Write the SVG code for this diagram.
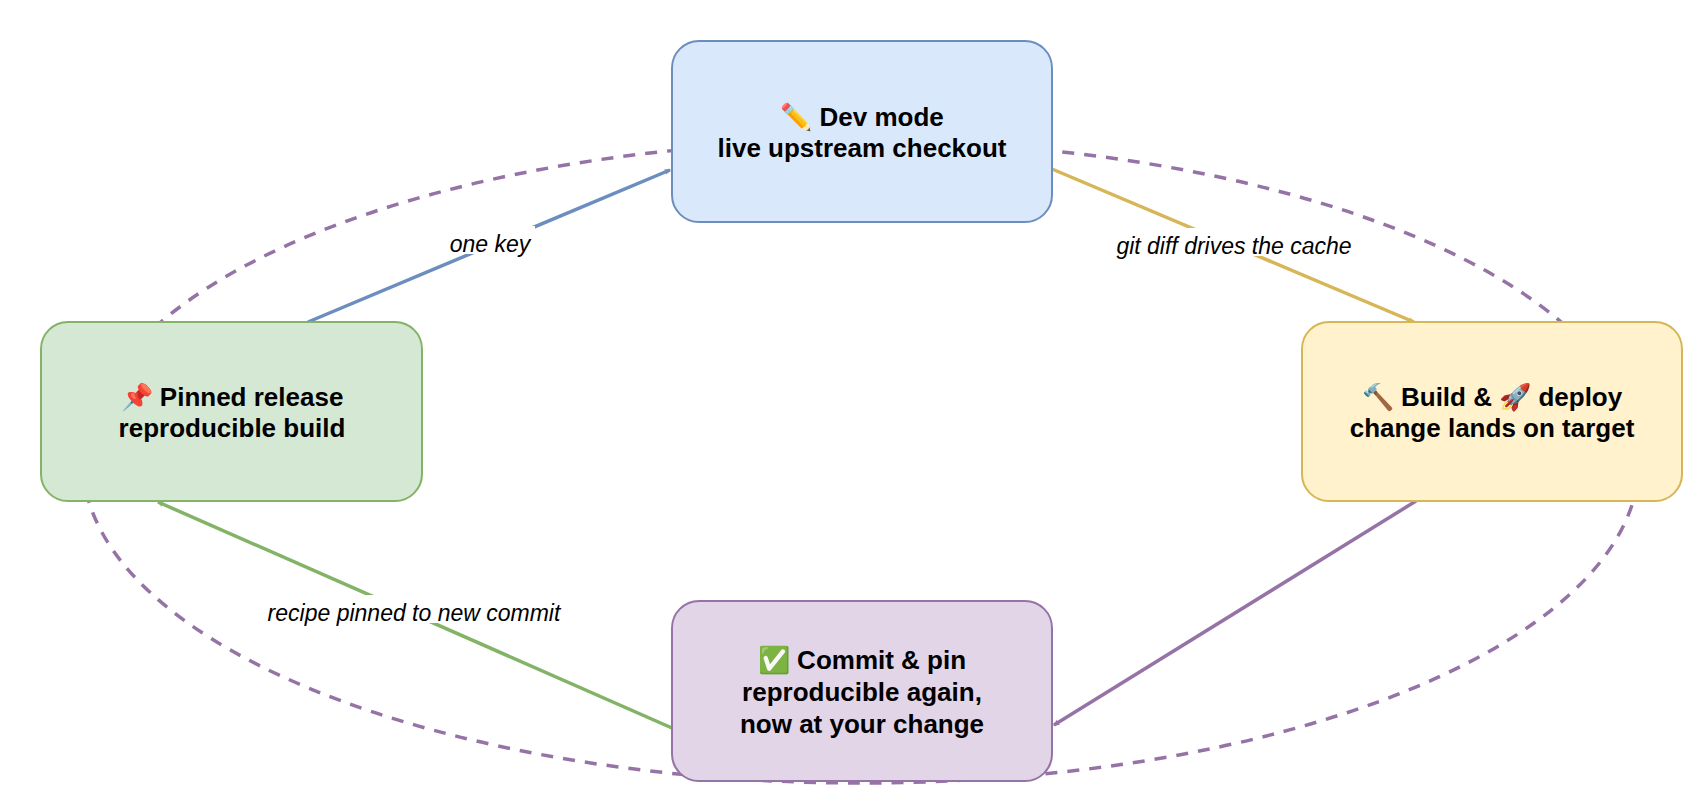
<svg xmlns="http://www.w3.org/2000/svg" width="1705" height="806" viewBox="0 0 1705 806">
<style>
.t{font-family:"Liberation Sans",Arial,sans-serif;font-weight:bold;font-size:26px;text-anchor:middle;fill:#000}
.l{font-family:"Liberation Sans",Arial,sans-serif;font-style:italic;font-size:23px;text-anchor:middle;fill:#000}
.c{fill:none;stroke-width:3.5}
</style>
<defs>
<marker id="ab" viewBox="0 0 10 10" refX="9" refY="5" markerWidth="6" markerHeight="6" orient="auto" markerUnits="userSpaceOnUse" style="overflow:visible"><path d="M0,0L22,10L0,20L5,10Z" transform="scale(0.5)" fill="#6c8ebf"/></marker>
<marker id="ay" viewBox="0 0 10 10" refX="9" refY="5" markerWidth="6" markerHeight="6" orient="auto" markerUnits="userSpaceOnUse" style="overflow:visible"><path d="M0,0L22,10L0,20L5,10Z" transform="scale(0.5)" fill="#d6b656"/></marker>
<marker id="ap" viewBox="0 0 10 10" refX="9" refY="5" markerWidth="6" markerHeight="6" orient="auto" markerUnits="userSpaceOnUse" style="overflow:visible"><path d="M0,0L22,10L0,20L5,10Z" transform="scale(0.5)" fill="#9673a6"/></marker>
<marker id="ag" viewBox="0 0 10 10" refX="9" refY="5" markerWidth="6" markerHeight="6" orient="auto" markerUnits="userSpaceOnUse" style="overflow:visible"><path d="M0,0L22,10L0,20L5,10Z" transform="scale(0.5)" fill="#82b366"/></marker>
</defs>
<rect width="1705" height="806" fill="#fff"/>
<ellipse cx="861" cy="462" rx="778" ry="321" fill="none" stroke="#9673a6" stroke-width="3.5" stroke-dasharray="12,10"/>
<g id="connectors">
<line class="c" stroke="#6c8ebf" x1="308" y1="322" x2="670" y2="170" marker-end="url(#ab)"/>
<line class="c" stroke="#d6b656" x1="1052" y1="169" x2="1414" y2="322" marker-end="url(#ay)"/>
<line class="c" stroke="#9673a6" x1="1416" y1="501" x2="1054" y2="725" marker-end="url(#ap)"/>
<line class="c" stroke="#82b366" x1="672" y1="728" x2="158" y2="502" marker-end="url(#ag)"/>
<rect x="445" y="226" width="90" height="28" fill="#fff"/>
<text class="l" x="490" y="252">one key</text>
<rect x="1107" y="228" width="254" height="28" fill="#fff"/>
<text class="l" x="1234" y="254">git diff drives the cache</text>
<rect x="260" y="595" width="308" height="28" fill="#fff"/>
<text class="l" x="414" y="621">recipe pinned to new commit</text>
</g>
<g id="dev">
<rect x="672" y="41" width="380" height="181" rx="27" fill="#dae8fc" stroke="#6c8ebf" stroke-width="2"/>
<text class="t" x="862" y="126">✏️ Dev mode</text>
<text class="t" x="862" y="157">live upstream checkout</text>
</g>
<g id="build">
<rect x="1302" y="322" width="380" height="179" rx="27" fill="#fff2cc" stroke="#d6b656" stroke-width="2"/>
<text class="t" x="1492" y="406">🔨 Build &amp; 🚀 deploy</text>
<text class="t" x="1492" y="437">change lands on target</text>
</g>
<g id="pinned">
<rect x="41" y="322" width="381" height="179" rx="27" fill="#d5e8d4" stroke="#82b366" stroke-width="2"/>
<text class="t" x="232" y="406">📌 Pinned release</text>
<text class="t" x="232" y="437">reproducible build</text>
</g>
<g id="commit">
<rect x="672" y="601" width="380" height="180" rx="27" fill="#e1d5e7" stroke="#9673a6" stroke-width="2"/>
<text class="t" x="862" y="669">✅ Commit &amp; pin</text>
<text class="t" x="862" y="701">reproducible again,</text>
<text class="t" x="862" y="733">now at your change</text>
</g>
</svg>
